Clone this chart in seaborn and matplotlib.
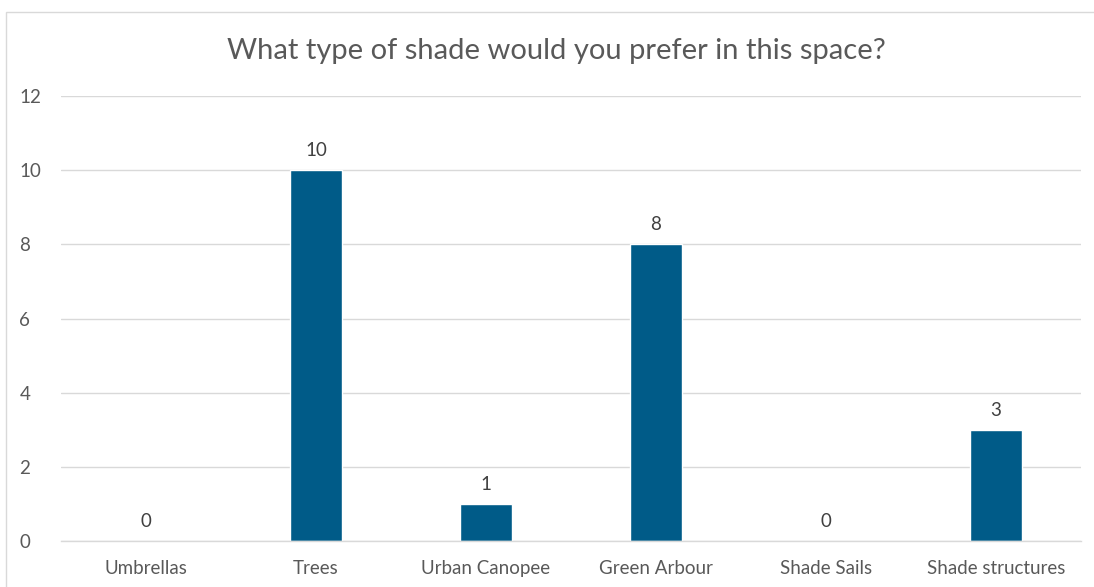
import matplotlib
matplotlib.use("Agg")
import matplotlib.pyplot as plt
import seaborn as sns
import pandas as pd
from matplotlib.patches import Rectangle

categories = ["Umbrellas", "Trees", "Urban Canopee", "Green Arbour", "Shade Sails", "Shade structures"]
values = [0, 10, 1, 8, 0, 3]
title = "What type of shade would you prefer in this space?"
yticks = [0, 2, 4, 6, 8, 10, 12]

sns.set_theme(style="white")
plt.rcParams['font.family'] = ['Lato', 'DejaVu Sans']

df = pd.DataFrame({"cat": categories, "val": values})

fig = plt.figure(figsize=(10.94, 5.87), dpi=100)
ax = fig.add_axes([61/1094, 46/587, (1081-61)/1094, (541-96)/587])

sns.barplot(data=df, x="cat", y="val", color="#005B88", width=0.31, ax=ax, saturation=1)

ax.set_ylim(0, 12)
ax.set_yticks(yticks)
ax.yaxis.grid(True, color="#d9d9d9", linewidth=1)
ax.set_axisbelow(True)
for s in ["top", "right", "left"]:
    ax.spines[s].set_visible(False)
ax.spines["bottom"].set_color("#d9d9d9")
ax.spines["bottom"].set_linewidth(1)
ax.set_xlabel("")
ax.set_ylabel("")
ax.tick_params(axis="both", length=0, labelsize=13.5, labelcolor="#595959")
ax.tick_params(axis="x", pad=14)
for lab in ax.get_yticklabels():
    lab.set_horizontalalignment("left")
ax.yaxis.set_tick_params(pad=30)

for c in ax.containers:
    ax.bar_label(c, labels=[str(v) for v in values], padding=8, fontsize=13.5, color="#404040")

fig.text(556/1094, 1 - 51/587, title, ha="center", va="center", fontsize=21,
         color="#595959")

fig.patches.append(Rectangle((6/1094, -0.05), 1.2, (587-12)/587 + 0.05, transform=fig.transFigure,
                             fill=False, edgecolor="#d9d9d9", linewidth=1))

fig.savefig("out.png", dpi=100)
